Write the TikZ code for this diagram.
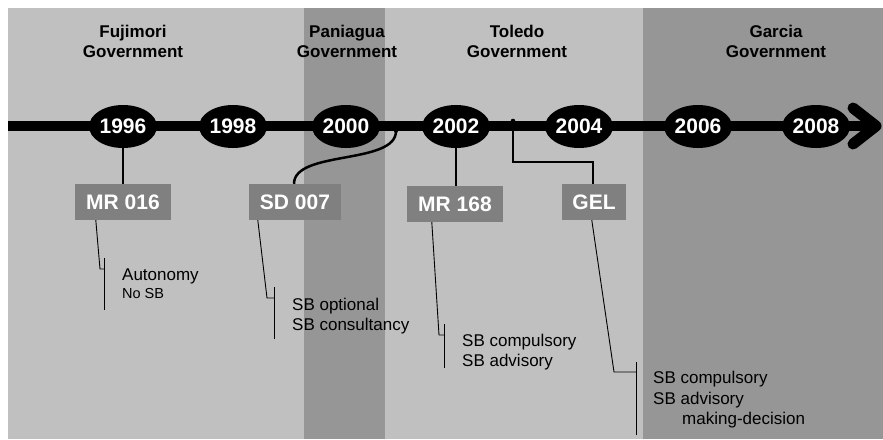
\documentclass[tikz,border=0pt]{standalone}
\usepackage{fontspec}
\setmainfont{Liberation Sans}
\usetikzlibrary{shapes.geometric}
\definecolor{lightbg}{HTML}{C0C0C0}
\definecolor{darkbg}{HTML}{969696}
\definecolor{boxgray}{HTML}{808080}
\tikzset{
  yearnode/.style={ellipse, fill=black, text=white, inner sep=0pt,
    minimum width=68pt, minimum height=43pt,
    font=\fontsize{21}{24}\selectfont\bfseries},
  lawbox/.style={rectangle, fill=boxgray, text=white, inner sep=0pt,
    minimum height=36pt, font=\fontsize{21}{24}\selectfont\bfseries},
  govtitle/.style={anchor=north, align=center, inner sep=0pt,
    font=\fontsize{17}{20}\selectfont\bfseries},
  note/.style={anchor=base west, inner sep=0pt, font=\fontsize{17}{20}\selectfont},
  smallnote/.style={anchor=base west, inner sep=0pt, font=\fontsize{14.5}{17}\selectfont},
  thickcon/.style={line width=2.5pt},
  thincon/.style={line width=0.9pt},
}
\begin{document}
\begin{tikzpicture}[x=1pt,y=-1pt]
\useasboundingbox (0,0) rectangle (883,439);
\fill[white] (0,0) rectangle (883,439);
% government periods
\fill[lightbg] (8,8) rectangle (304,439);
\fill[darkbg] (304,8) rectangle (385,439);
\fill[lightbg] (385,8) rectangle (643,439);
\fill[darkbg] (643,8) rectangle (883,439);
% titles
\node[govtitle] (tfuj) at (133,24.5) {Fujimori\\Government};
\node[govtitle] (tpan) at (347,24.5) {Paniagua\\Government};
\node[govtitle] (ttol) at (517,24.5) {Toledo\\Government};
\node[govtitle] (tgar) at (776,24.5) {Garcia\\Government};
% timeline bar and arrow head
\coordinate (barstart) at (8,126);
\coordinate (barend) at (874,126);
\draw[line width=10pt] (barstart) -- (barend);
\coordinate (headtop) at (853,108);
\coordinate (headtip) at (876,126);
\coordinate (headbot) at (853,144);
\draw[line width=11pt, line cap=round, line join=round] (headtop) -- (headtip) -- (headbot);
% years
\node[yearnode] (y1996) at (123,126.5) {1996};
\node[yearnode] (y1998) at (233,126.5) {1998};
\node[yearnode] (y2000) at (346,126.5) {2000};
\node[yearnode] (y2002) at (456,126.5) {2002};
\node[yearnode] (y2004) at (579,126.5) {2004};
\node[yearnode] (y2006) at (698,126.5) {2006};
\node[yearnode] (y2008) at (816,126.5) {2008};
% law boxes
\node[lawbox, minimum width=96pt] (b016) at (123,202) {MR 016};
\node[lawbox, minimum width=92pt] (b007) at (295,202) {SD 007};
\node[lawbox, minimum width=96pt] (b168) at (455,204) {MR 168};
\node[lawbox, minimum width=64pt] (bgel) at (594,202) {GEL};
% thick connectors
\draw[thickcon] (y1996.south) -- (b016.north);
\draw[thickcon] (y2002.south) -- (b168.north -| y2002.south);
\coordinate (d2000) at (396,131);
\draw[thickcon] ([xshift=-1pt]b007.north) .. controls (294,150) and (396,165) .. (d2000);
\fill (d2000) circle (2pt);
\coordinate (d2003) at (513,121);
\fill (d2003) circle (2.3pt);
\coordinate (gelbend) at (513,162);
\draw[thickcon] (d2003) -- (gelbend) -| ([xshift=-1pt]bgel.north);
% annotation brackets
\draw[thincon] ([xshift=21pt]b016.south west) -- (100,269) -- (104,269);
\draw[thincon] (104,258) -- (104,310);
\draw[thincon] ([xshift=9pt]b007.south west) -- (267,298) -- (274,298);
\draw[thincon] (274,287) -- (274,339);
\draw[thincon] ([xshift=25pt]b168.south west) -- (439,335) -- (444,335);
\draw[thincon] (444,324) -- (444,368);
\draw[thincon] ([xshift=30pt]bgel.south west) -- (614,372) -- (636,372);
\draw[thincon] (636,362) -- (636,435);
% annotation texts
\node[note] (a1) at (122,280) {Autonomy};
\node[smallnote] (a2) at (122,298) {No SB};
\node[note] (b1) at (292,310) {SB optional};
\node[note] (b2) at (292,330) {SB consultancy};
\node[note] (c1) at (462,346) {SB compulsory};
\node[note] (c2) at (462,366) {SB advisory};
\node[note] (e1) at (653,383) {SB compulsory};
\node[note] (e2) at (653,404) {SB advisory};
\node[note] (e3) at (682,424) {making-decision};
\end{tikzpicture}
\end{document}
